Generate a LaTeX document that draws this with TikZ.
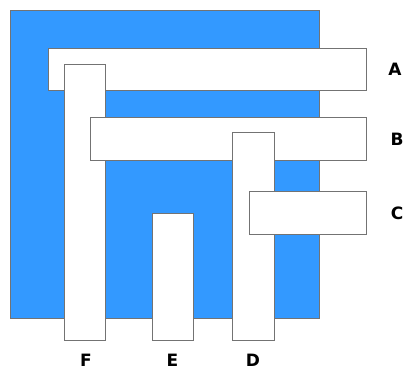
\documentclass[tikz,border=0pt]{standalone}
\usepackage{fontspec}
\setmainfont{DejaVu Sans}
\begin{document}
\begin{tikzpicture}[x=1pt,y=-1pt,
  bar/.style={draw=gray!90!black,fill=white,line width=0.8pt},
  lbl/.style={font=\fontsize{17}{17}\selectfont\bfseries,inner sep=0pt}]
\useasboundingbox (0,0) rectangle (406,369);
\fill[white] (0,0) rectangle (406,369);
\draw[draw=gray!90!black,fill={rgb,255:red,51;green,153;blue,255},line width=0.8pt] (10.5,10.5) rectangle (319,318);
\draw[bar] (48,48) rectangle (366.5,90);
\draw[bar] (64,64) rectangle (105.5,340);
\draw[bar] (90,117) rectangle (366.5,160);
\draw[bar] (232,132) rectangle (274,340);
\draw[bar] (249.5,191) rectangle (366.5,234);
\draw[bar] (152,213) rectangle (193.5,340);
\node[lbl] (A) at (395,69) {A};
\node[lbl] (B) at (397,139) {B};
\node[lbl] (C) at (397,213) {C};
\node[lbl] (F) at (86,360) {F};
\node[lbl] (E) at (172.5,360) {E};
\node[lbl] (D) at (253,360) {D};
\end{tikzpicture}
\end{document}
